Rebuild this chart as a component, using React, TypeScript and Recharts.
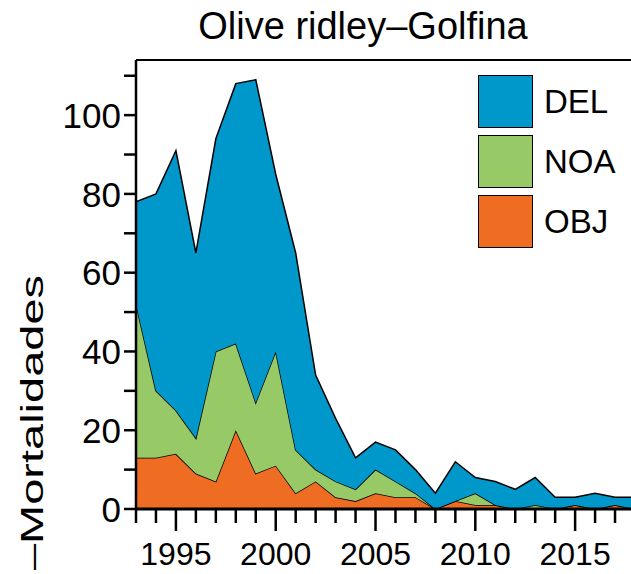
import { AreaChart, Area, XAxis, YAxis, Legend, ReferenceLine } from 'recharts'

const years = [
  1993, 1994, 1995, 1996, 1997, 1998, 1999, 2000, 2001, 2002, 2003, 2004, 2005,
  2006, 2007, 2008, 2009, 2010, 2011, 2012, 2013, 2014, 2015, 2016, 2017, 2018,
]
const objDeaths = [13, 13, 14, 9, 7, 20, 9, 11, 4, 7, 3, 2, 4, 3, 3, 0, 2, 1, 1, 0, 0, 0, 1, 0, 1, 0]
const noaDeaths = [39, 17, 11, 9, 33, 22, 18, 29, 11, 3, 4, 3, 6, 4, 1, 0, 0, 3, 0, 0, 1, 0, 0, 0, 0, 0]
const delDeaths = [26, 50, 66, 47, 54, 66, 82, 45, 50, 24, 16, 8, 7, 8, 6, 4, 10, 4, 6, 5, 7, 3, 2, 4, 2, 3]

const xTicks = years.filter((y) => y <= 2017)
const yTicks = [0, 10, 20, 30, 40, 50, 60, 70, 80, 90, 100, 110]

// stacked bottom to top
const series = [
  { key: 'OBJ', color: '#EE6D23' },
  { key: 'NOA', color: '#97C966' },
  { key: 'DEL', color: '#0098CA' },
]

const data = years.map((year, i) => ({
  year,
  OBJ: objDeaths[i],
  NOA: noaDeaths[i],
  DEL: delDeaths[i],
}))

const FONT = '"Liberation Sans", Arial, sans-serif'

function XTick({ x, y, payload }: any) {
  const v = payload.value
  const major = v % 5 === 0
  return (
    <g>
      <line x1={x} x2={x} y1={y} y2={y + (major ? 22 : 14)} stroke="#000" strokeWidth={2.5} />
      {major && (
        <text x={x} y={y + 56} textAnchor="middle" fontSize={32} fontFamily={FONT} fill="#000">
          {v}
        </text>
      )}
    </g>
  )
}

function YTick({ x, y, payload }: any) {
  const v = payload.value
  return (
    <g>
      <line x1={x - 12} x2={x} y1={y} y2={y} stroke="#000" strokeWidth={2.5} />
      {v % 20 === 0 && (
        <text x={x - 15} y={y} dy="0.36em" textAnchor="end" fontSize={35} fontFamily={FONT} fill="#000">
          {v}
        </text>
      )}
    </g>
  )
}

function YLabel() {
  return (
    <text
      transform="translate(43, 570) rotate(-90)"
      fontSize={32}
      fontFamily={FONT}
      fill="#000"
      textLength={295}
      lengthAdjust="spacingAndGlyphs"
    >
      –Mortalidades
    </text>
  )
}

function LegendBox() {
  return (
    <div style={{ fontFamily: FONT }}>
      {[...series].reverse().map((s) => (
        <div key={s.key} style={{ display: 'flex', alignItems: 'center', height: 53, marginBottom: 7 }}>
          <div
            style={{
              width: 53,
              height: 51,
              background: s.color,
              border: '1.5px solid #000',
            }}
          />
          <span style={{ fontSize: 33, marginLeft: 11, color: '#000' }}>{s.key}</span>
        </div>
      ))}
    </div>
  )
}

export default function App() {
  return (
    <div style={{ position: 'absolute', left: 0, top: 0, width: 631, height: 574, background: '#fff' }}>
      <div
        style={{
          position: 'absolute',
          left: 363,
          top: 7,
          transform: 'translateX(-50%)',
          fontFamily: FONT,
          fontSize: 38,
          lineHeight: 1,
          whiteSpace: 'nowrap',
          color: '#000',
        }}
      >
        Olive ridley–Golfina
      </div>
      <AreaChart width={631} height={574} data={data} margin={{ top: 60, right: 0, bottom: 0, left: 0 }}>
        <XAxis
          type="number"
          dataKey="year"
          domain={[1993, 2017.8]}
          allowDataOverflow
          ticks={xTicks}
          interval={0}
          tickSize={0}
          tickMargin={0}
          tickLine={false}
          tick={<XTick />}
          axisLine={{ stroke: '#000', strokeWidth: 3 }}
          height={65}
        />
        <YAxis
          type="number"
          domain={[0, 114]}
          allowDataOverflow
          ticks={yTicks}
          interval={0}
          tickSize={0}
          tickMargin={0}
          tickLine={false}
          tick={<YTick />}
          axisLine={{ stroke: '#000', strokeWidth: 2.5 }}
          width={136}
          label={<YLabel />}
        />
        {series.map((s) => (
          <Area
            key={s.key}
            type="linear"
            dataKey={s.key}
            stackId="1"
            stroke="#000"
            strokeWidth={1.5}
            fill={s.color}
            fillOpacity={1}
            isAnimationActive={false}
          />
        ))}
        <ReferenceLine y={114} stroke="#000" strokeWidth={2} />
        <Legend
          layout="horizontal"
          verticalAlign="middle"
          align="center"
          content={<LegendBox />}
          wrapperStyle={{ left: 478, top: 75, width: 153, height: 180 }}
        />
      </AreaChart>
    </div>
  )
}
